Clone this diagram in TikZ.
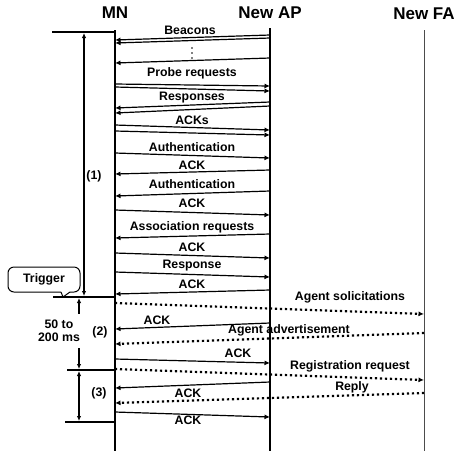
\documentclass[tikz,border=0pt]{standalone}
\usepackage{fontspec}
\setmainfont{Liberation Sans}
\usetikzlibrary{arrows.meta,calc}
\def\msg[#1](#2:#3)(#4:#5){\draw[#1] (#2 |- 0,#3) -- (#4 |- 0,#5);}
\tikzset{
	hdr/.style={font=\fontsize{17}{19}\selectfont\bfseries, inner sep=0pt},
	lbl/.style={font=\fontsize{12.3}{12.5}\selectfont\bfseries, inner sep=0pt},
	life/.style={line width=1.3pt},
	msg/.style={line width=1.2pt, -{Latex[length=5.5pt,width=5pt]}},
	dmsg/.style={msg, line width=2.2pt, dash pattern=on 2.2pt off 2.8pt},
	dimline/.style={line width=1.1pt, {Latex[length=5pt,width=4.5pt]}-{Latex[length=5pt,width=4.5pt]}},
}

\begin{document}
\begin{tikzpicture}[x=1pt,y=-1pt]
			\useasboundingbox (0,0) rectangle (454,451);
			%%%%% START %%%%%
			
			\node[hdr] (mn) at (115,13) {MN};
			\node[hdr] (ap) at (270,13) {New AP};
			\node[hdr] (fa) at (424,14) {New FA};
			
			\draw[life] (mn |- 0,30) -- (mn |- 0,451);
			\draw[life] (ap |- 0,28) -- (ap |- 0,451);
			\draw[line width=0.9pt, color=black!70] (fa |- 0,30) -- (fa |- 0,451);
			
			%% phase (1)
			\node[lbl] (beacons) at (190,30) {Beacons};
			\msg[msg](ap:35)(mn:40)
			\msg[msg](ap:38)(mn:43)
			\foreach \y in {48,53,58} \fill (192,\y) circle (0.9);
			\msg[msg](ap:58)(mn:63)
			
			\node[lbl] (probe) at (192,73) {Probe requests};
			\msg[msg](mn:84)(ap:86)
			\msg[msg](mn:87)(ap:91)
			
			\node[lbl] (resp) at (192,98) {Responses};
			\msg[msg](ap:102)(mn:108)
			\msg[msg](ap:106)(mn:113)
			
			\node[lbl] (acks) at (192,120) {ACKs};
			\msg[msg](mn:125)(ap:130)
			\msg[msg](mn:131)(ap:135)
			
			\node[lbl] (auth1) at (192,147) {Authentication};
			\msg[msg](mn:153)(ap:158)
			\node[lbl] (ack1) at (192,165) {ACK};
			\msg[msg](ap:170)(mn:174)
			
			\node[lbl] (auth2) at (192,184) {Authentication};
			\msg[msg](ap:191)(mn:196)
			\node[lbl] (ack2) at (192,203) {ACK};
			\msg[msg](mn:210)(ap:215)
			
			\node[lbl] (assoc) at (192,227) {Association requests};
			\msg[msg](ap:234)(mn:238)
			\node[lbl] (ack3) at (192,247) {ACK};
			\msg[msg](mn:253)(ap:258)
			
			\node[lbl] (response) at (192,266) {Response};
			\msg[msg](mn:272)(ap:277)
			\node[lbl] (ack4) at (192,284) {ACK};
			\msg[msg](ap:290)(mn:294)
			
			%% phase (2)
			\node[lbl] (sol) at (350,297) {Agent solicitations};
			\msg[dmsg](mn:303)(fa:314)
			\node[lbl] (ack5) at (157,320) {ACK};
			\msg[msg](ap:323)(mn:329)
			\node[lbl] (adv) at (289,330) {Agent advertisement};
			\msg[dmsg](fa:333)(mn:344)
			\node[lbl] (ack6) at (238,353) {ACK};
			\msg[msg](mn:359)(ap:363)
			
			%% phase (3)
			\node[lbl] (reg) at (350,366) {Registration request};
			\msg[dmsg](mn:369)(fa:380)
			\node[lbl] (ack7) at (188,393) {ACK};
			\msg[msg](ap:382)(mn:388)
			\node[lbl] (reply) at (352,387) {Reply};
			\msg[dmsg](fa:393)(mn:403)
			\node[lbl] (ack8) at (188,420) {ACK};
			\msg[msg](mn:412)(ap:417)
			
			%% time scale on the left
			\coordinate (t0) at (52,32);
			\coordinate (t1) at (53,297);
			\coordinate (t2) at (67,370);
			\coordinate (t3) at (65,422);
			\draw[line width=1.1pt] (t0) -- (mn |- t0);
			\draw[line width=1.1pt] (t1) -- (mn |- t1);
			\draw[line width=1.1pt] (t2) -- (mn |- t2);
			\draw[line width=1.1pt] (t3) -- (mn |- t3);
			
			\draw[dimline] (84,33) -- (84,296);
			\node[lbl] (p1) at (94,176) {(1)};
			
			\node[lbl, align=center] (dur) at (59,331) {50 to\\200 ms};
			\draw[line width=1.1pt, {Latex[length=5pt,width=4.5pt]}-] (79,298) -- (79,314);
			\draw[line width=1.1pt, -{Latex[length=5pt,width=4.5pt]}] (79,348) -- (79,369);
			\node[lbl] (p2) at (100,332) {(2)};
			
			\draw[dimline] (79,371) -- (79,421);
			\node[lbl] (p3) at (99,393) {(3)};
			
			%% trigger callout
			\node[lbl, draw, line width=1pt, rounded corners=6pt, minimum width=72pt, minimum height=25pt] (trig) at (44,279.5) {Trigger};
			\fill[white] (61,291) rectangle (70,293.5);
			\draw[line width=1pt] (61,292) -- (63,297) -- (70,292);
			
			%%%%% END %%%%%
		\end{tikzpicture}
\end{document}
